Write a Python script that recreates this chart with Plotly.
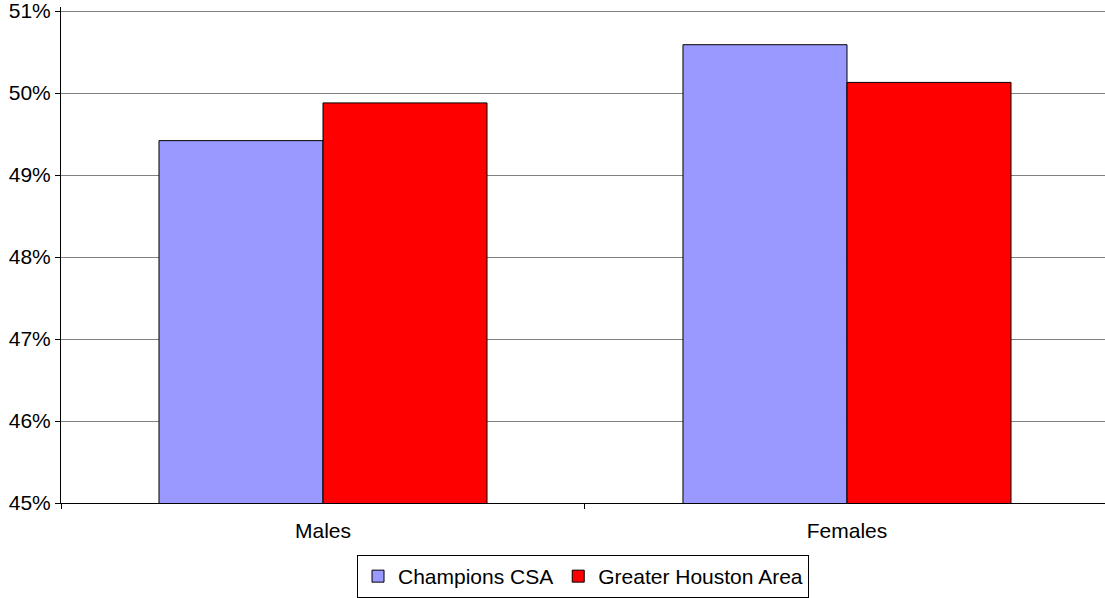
import plotly.graph_objects as go

categories = ["Males", "Females"]
champions_csa = [49.42, 50.59]
greater_houston = [49.88, 50.13]
series_names = ["Champions CSA", "Greater Houston Area"]
y_ticks = [45, 46, 47, 48, 49, 50, 51]
y_tick_labels = ["45%", "46%", "47%", "48%", "49%", "50%", "51%"]

FONT = "Liberation Sans, Arial, sans-serif"

fig = go.Figure()
fig.add_trace(go.Bar(
    x=categories, y=champions_csa, name=series_names[0],
    marker=dict(color="#9999FF", line=dict(color="#000000", width=1)),
))
fig.add_trace(go.Bar(
    x=categories, y=greater_houston, name=series_names[1],
    marker=dict(color="#FF0000", line=dict(color="#000000", width=1)),
))

fig.update_layout(
    width=1105, height=598,
    margin=dict(l=61, r=0, t=7, b=93),
    paper_bgcolor="white", plot_bgcolor="white",
    barmode="group", bargap=0.374, bargroupgap=0,
    font=dict(family=FONT, size=21, color="#000000"),
    showlegend=True,
    legend=dict(
        orientation="h", x=0.5, xanchor="center", y=-0.105, yanchor="top",
        bordercolor="#000000", borderwidth=1, bgcolor="white",
        font=dict(family=FONT, size=21), itemwidth=30,
    ),
    xaxis=dict(
        type="category", range=[-0.5, 1.4924],
        showline=True, linecolor="#000000", linewidth=1,
        ticks="outside", tickson="boundaries", ticklen=5, tickcolor="#000000",
        showgrid=False, tickfont=dict(size=21), ticklabelstandoff=9,
    ),
    yaxis=dict(
        range=[45, 51.05], tickvals=y_ticks, ticktext=y_tick_labels,
        showline=True, linecolor="#000000", linewidth=1,
        ticks="outside", ticklen=5, tickcolor="#000000",
        showgrid=True, gridcolor="#808080", gridwidth=1,
        zeroline=False, tickfont=dict(size=21), ticklabeloverflow="allow",
    ),
)

fig.write_html("out.html", config={"displayModeBar": False},
               post_script="document.body.style.margin='0';")
